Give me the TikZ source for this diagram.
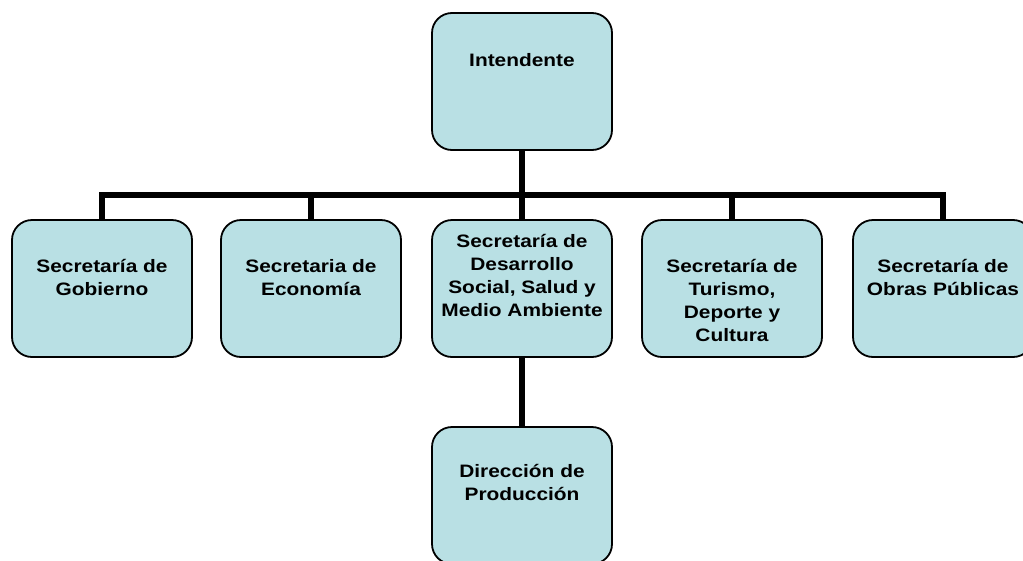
\documentclass[tikz,border=0pt]{standalone}
\usepackage{fontspec}
\setmainfont{Liberation Sans}[FakeStretch=1.16]
\usepackage{xcolor}
\usepackage{tikz}

\definecolor{boxfill}{RGB}{185,224,228}

\tikzset{
  unit/.style={draw, line width=1.8pt, fill=boxfill, rounded corners=20pt,
    minimum width=180pt, minimum height=137pt, inner sep=0pt},
  unitname/.style={anchor=north, inner sep=0pt, align=center,
    font=\fontsize{18}{23}\selectfont\bfseries},
  link/.style={line width=5.5pt, line join=miter}
}

\begin{document}
\begin{tikzpicture}[x=1pt, y=-1pt]
    \useasboundingbox (0,0) rectangle (1023,560);

    % Boxes
    \node[unit] (int) at (522,81.5) {};
    \node[unit] (gob) at (102,288.5) {};
    \node[unit] (eco) at (311,288.5) {};
    \node[unit] (soc) at (522,288.5) {};
    \node[unit] (tur) at (732,288.5) {};
    \node[unit] (obr) at (943,288.5) {};
    \node[unit] (pro) at (522,495.5) {};

    % Names
    \node[unitname] (inttxt) at ([yshift=-39pt]int.north) {\rule{0pt}{15pt}Intendente};
    \node[unitname] (gobtxt) at ([yshift=-38pt]gob.north) {\rule{0pt}{15pt}Secretaría de\\Gobierno};
    \node[unitname] (ecotxt) at ([yshift=-38pt]eco.north) {\rule{0pt}{15pt}Secretaria de\\Economía};
    \node[unitname] (soctxt) at ([yshift=-13pt]soc.north) {\rule{0pt}{15pt}Secretaría de\\Desarrollo\\Social, Salud y\\Medio Ambiente};
    \node[unitname] (turtxt) at ([yshift=-38pt]tur.north) {\rule{0pt}{15pt}Secretaría de\\Turismo,\\Deporte y\\Cultura};
    \node[unitname] (obrtxt) at ([yshift=-38pt]obr.north) {\rule{0pt}{15pt}Secretaría de\\Obras Públicas};
    \node[unitname] (protxt) at ([yshift=-36pt]pro.north) {\rule{0pt}{15pt}Dirección de\\Producción};

    % Lines
    \coordinate (bus) at (522,195);
    \draw[link] (int.south) -- (soc.north);
    \draw[link] (gob.north) |- (bus);
    \draw[link] (eco.north) |- (bus);
    \draw[link] (tur.north) |- (bus);
    \draw[link] (obr.north) |- (bus);
    \draw[link] (soc.south) -- (pro.north);

\end{tikzpicture}
\end{document}
